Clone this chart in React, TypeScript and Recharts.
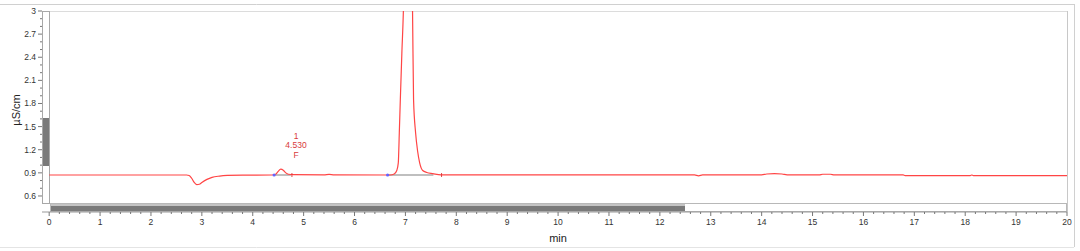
import React from "react";
import {
  ComposedChart, Line, XAxis, YAxis, ReferenceLine, ReferenceDot,
} from "recharts";

// retention time (min) and conductivity (µS/cm)
const times = [
  0, 2.7, 2.75, 2.8, 2.85, 2.9, 2.95, 3.0, 3.1, 3.2, 3.35, 3.5, 3.8,
  4.38, 4.45, 4.5, 4.55, 4.6, 4.65, 4.7, 4.8, 5.4, 5.5, 5.6,
  6.7, 6.78, 6.83, 6.86, 6.88, 6.9, 6.93, 6.96, 7.0, 7.05, 7.1, 7.14, 7.16, 7.2, 7.24, 7.28, 7.34, 7.42, 7.54, 7.7,
  12.68, 12.76, 12.84, 14.0, 14.1, 14.25, 14.4, 14.5, 15.13, 15.2, 15.35, 15.43,
  16.78, 16.82, 18.1, 18.13, 18.16, 20,
];
const signal = [
  0.872, 0.872, 0.866, 0.83, 0.775, 0.748, 0.752, 0.775, 0.815, 0.842, 0.858, 0.866, 0.871,
  0.872, 0.882, 0.92, 0.948, 0.935, 0.9, 0.882, 0.876, 0.873, 0.879, 0.873,
  0.872, 0.885, 0.93, 1.03, 1.42, 1.85, 2.45, 3.0, 4.3, 4.8, 4.2, 3.0, 1.85, 1.42, 1.18, 1.03, 0.93, 0.905, 0.89, 0.874,
  0.873, 0.862, 0.873, 0.873, 0.885, 0.89, 0.885, 0.873, 0.873, 0.882, 0.882, 0.873,
  0.873, 0.864, 0.864, 0.872, 0.864, 0.864,
];

// integration marks: [start, end] of each peak and the baseline level
const peakStarts = [4.42, 6.65];
const peakEnds = [4.77, 7.71];
const baselineEnds = [4.75, 7.55];
const baseLevel = 0.872;

const xMajor = Array.from({ length: 21 }, (_, i) => i);
const xTicks = Array.from({ length: 101 }, (_, i) => Math.round(i * 2) / 10);
const yMajor = [0.6, 0.9, 1.2, 1.5, 1.8, 2.1, 2.4, 2.7, 3];
const yTicks = Array.from({ length: 25 }, (_, i) => Math.round((0.6 + i * 0.1) * 10) / 10);

const data = times.map((t, i) => ({ t, v: signal[i] }));

const FONT = "'Liberation Sans', Arial, sans-serif";

const isMajor = (v: number, list: number[]) => list.some((m) => Math.abs(m - v) < 1e-6);

function XTick({ x, y, payload }: any) {
  const major = isMajor(payload.value, xMajor);
  return (
    <g>
      <line x1={x} x2={x} y1={y} y2={y + (major ? 4 : 2)} stroke="#777" />
      {major && (
        <text x={x} y={y + 13} textAnchor="middle" fontSize={8.5} fill="#333" fontFamily={FONT}>
          {payload.value}
        </text>
      )}
    </g>
  );
}

function YTick({ x, y, payload }: any) {
  const major = isMajor(payload.value, yMajor);
  return (
    <g>
      <line x1={x} x2={x - (major ? 4 : 2)} y1={y} y2={y} stroke="#777" />
      {major && (
        <text x={x - 6} y={y + 3} textAnchor="end" fontSize={8.5} fill="#333" fontFamily={FONT}>
          {payload.value}
        </text>
      )}
    </g>
  );
}

function Frame() {
  return (
    <svg width={1080} height={251} style={{ position: "absolute", left: 0, top: 0 }}>
      {/* outer panel border */}
      <line x1={0} x2={1074} y1={4.5} y2={4.5} stroke="#d0d0d0" />
      <line x1={1074.5} x2={1074.5} y1={4} y2={247} stroke="#d0d0d0" />
      <line x1={0} x2={1074} y1={247.5} y2={247.5} stroke="#e4e4e4" />
      {/* plot frame */}
      <line x1={50} x2={1067} y1={11.5} y2={11.5} stroke="#dcdcdc" />
      <line x1={1067.5} x2={1067.5} y1={11} y2={212} stroke="#c8c8c8" />
      {/* vertical scrollbar / y axis */}
      <rect x={42.5} y={11.5} width={7} height={192} fill="#fff" stroke="#a8a8a8" />
      <rect x={43} y={118} width={6} height={48} fill="#7a7a7a" />
      {/* horizontal scrollbar */}
      <rect x={50.5} y={203.5} width={1016} height={8} fill="#fff" stroke="#b8b8b8" />
      <rect x={51} y={204} width={634} height={2} fill="#c4c4c4" />
      <rect x={51} y={206} width={634} height={5} fill="#7a7a7a" />
      {/* axis titles */}
      <text x={558} y={242} textAnchor="middle" fontSize={11} fill="#222" fontFamily={FONT}>min</text>
      <text transform="translate(20,110) rotate(-90)" textAnchor="middle" fontSize={11} fill="#222" fontFamily={FONT}>µS/cm</text>
      {/* peak annotation */}
      <g fontSize={8.5} fill="#d83a3a" fontFamily={FONT} textAnchor="middle">
        <text x={296} y={139}>1</text>
        <text x={296} y={148}>4.530</text>
        <text x={296} y={158}>F</text>
      </g>
    </svg>
  );
}

export default function App() {
  return (
    <div style={{ position: "fixed", left: 0, top: 0, width: 1080, height: 251, background: "#fff" }}>
      <Frame />
      <div style={{ position: "absolute", left: 0, top: 0 }}>
        <ComposedChart width={1080} height={251} data={data} margin={{ top: 11, right: 13, left: 0, bottom: 0 }}>
          <XAxis
            dataKey="t"
            type="number"
            domain={[-0.141, 20]}
            allowDataOverflow
            ticks={xTicks}
            interval={0}
            tick={<XTick />}
            tickLine={false}
            tickSize={0}
            tickMargin={0}
            height={39}
            axisLine={{ stroke: "#999" }}
          />
          <YAxis
            type="number"
            domain={[0.392, 3]}
            allowDataOverflow
            ticks={yTicks}
            interval={0}
            tick={<YTick />}
            tickLine={false}
            tickSize={0}
            tickMargin={0}
            width={42}
            axisLine={false}
          />
          {peakStarts.map((s, i) => (
            <ReferenceLine
              key={"b" + i}
              segment={[{ x: s, y: baseLevel }, { x: baselineEnds[i], y: baseLevel }]}
              stroke="#aaa"
              strokeWidth={1.5}
            />
          ))}
          <Line
            dataKey="v"
            type="monotone"
            stroke="#ff4545"
            strokeWidth={1.2}
            dot={false}
            isAnimationActive={false}
          />
          {peakStarts.map((s, i) => (
            <ReferenceDot key={"s" + i} x={s} y={baseLevel} r={1.6} fill="#6464ff" stroke="none" />
          ))}
          {peakEnds.map((e, i) => (
            <ReferenceLine
              key={"e" + i}
              segment={[{ x: e, y: baseLevel - 0.025 }, { x: e, y: baseLevel + 0.025 }]}
              stroke="#e03a3a"
            />
          ))}
        </ComposedChart>
      </div>
    </div>
  );
}
